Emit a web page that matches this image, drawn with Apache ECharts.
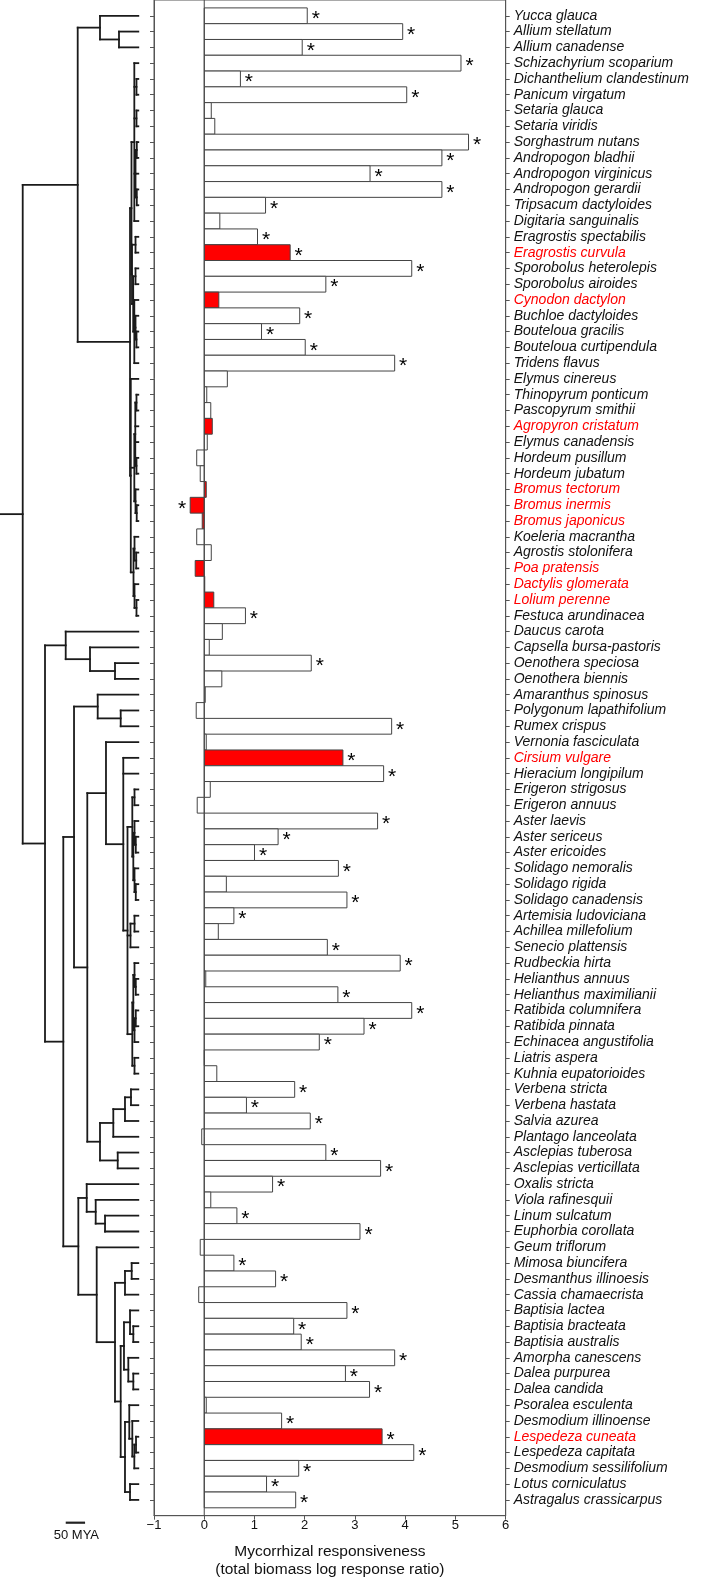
<!DOCTYPE html>
<html>
<head>
<meta charset="utf-8">
<script src="https://cdn.jsdelivr.net/npm/echarts@6/dist/echarts.min.js"></script>
<style>
html,body{margin:0;padding:0;background:#fff;}
#chart{width:709px;height:1578px;}
</style>
</head>
<body>
<div id="chart"></div>
<script>
// ---------------- DATA ----------------
const species = [
  'Yucca glauca','Allium stellatum','Allium canadense','Schizachyrium scoparium','Dichanthelium clandestinum',
  'Panicum virgatum','Setaria glauca','Setaria viridis','Sorghastrum nutans','Andropogon bladhii',
  'Andropogon virginicus','Andropogon gerardii','Tripsacum dactyloides','Digitaria sanguinalis','Eragrostis spectabilis',
  'Eragrostis curvula','Sporobolus heterolepis','Sporobolus airoides','Cynodon dactylon','Buchloe dactyloides',
  'Bouteloua gracilis','Bouteloua curtipendula','Tridens flavus','Elymus cinereus','Thinopyrum ponticum',
  'Pascopyrum smithii','Agropyron cristatum','Elymus canadensis','Hordeum pusillum','Hordeum jubatum',
  'Bromus tectorum','Bromus inermis','Bromus japonicus','Koeleria macrantha','Agrostis stolonifera',
  'Poa pratensis','Dactylis glomerata','Lolium perenne','Festuca arundinacea','Daucus carota',
  'Capsella bursa-pastoris','Oenothera speciosa','Oenothera biennis','Amaranthus spinosus','Polygonum lapathifolium',
  'Rumex crispus','Vernonia fasciculata','Cirsium vulgare','Hieracium longipilum','Erigeron strigosus',
  'Erigeron annuus','Aster laevis','Aster sericeus','Aster ericoides','Solidago nemoralis',
  'Solidago rigida','Solidago canadensis','Artemisia ludoviciana','Achillea millefolium','Senecio plattensis',
  'Rudbeckia hirta','Helianthus annuus','Helianthus maximilianii','Ratibida columnifera','Ratibida pinnata',
  'Echinacea angustifolia','Liatris aspera','Kuhnia eupatorioides','Verbena stricta','Verbena hastata',
  'Salvia azurea','Plantago lanceolata','Asclepias tuberosa','Asclepias verticillata','Oxalis stricta',
  'Viola rafinesquii','Linum sulcatum','Euphorbia corollata','Geum triflorum','Mimosa biuncifera',
  'Desmanthus illinoesis','Cassia chamaecrista','Baptisia lactea','Baptisia bracteata','Baptisia australis',
  'Amorpha canescens','Dalea purpurea','Dalea candida','Psoralea esculenta','Desmodium illinoense',
  'Lespedeza cuneata','Lespedeza capitata','Desmodium sessilifolium','Lotus corniculatus','Astragalus crassicarpus'
];

// mycorrhizal responsiveness (total biomass log response ratio)
const responsiveness = [
  2.05, 3.95, 1.95, 5.11, 0.72, 4.03, 0.14, 0.21, 5.26, 4.73,
  3.30, 4.73, 1.22, 0.31, 1.06, 1.71, 4.13, 2.42, 0.29, 1.90,
  1.14, 2.01, 3.79, 0.46, 0.05, 0.13, 0.16, 0.06, -0.15, -0.08,
  0.04, -0.28, -0.04, -0.15, 0.14, -0.18, 0.01, 0.19, 0.82, 0.36,
  0.10, 2.13, 0.35, 0.02, -0.16, 3.73, 0.04, 2.76, 3.57, 0.12,
  -0.14, 3.45, 1.47, 1.00, 2.67, 0.44, 2.84, 0.59, 0.28, 2.45,
  3.90, 0.03, 2.66, 4.13, 3.18, 2.29, 0.00, 0.25, 1.80, 0.84,
  2.11, -0.05, 2.42, 3.51, 1.36, 0.13, 0.65, 3.10, -0.08, 0.59,
  1.42, -0.11, 2.84, 1.78, 1.93, 3.79, 2.81, 3.29, 0.04, 1.54,
  3.54, 4.17, 1.88, 1.24, 1.82
];

// 1 = significant (asterisk)
const significant = [
  1,1,1,1,1,1,0,0,1,1,
  1,1,1,0,1,1,1,1,0,1,
  1,1,1,0,0,0,0,0,0,0,
  0,1,0,0,0,0,0,0,1,0,
  0,1,0,0,0,1,0,1,1,0,
  0,1,1,1,1,0,1,1,0,1,
  1,0,1,1,1,1,0,0,1,1,
  1,0,1,1,1,0,1,1,0,1,
  1,0,1,1,1,1,1,1,0,1,
  1,1,1,1,1
];

// non-native species (drawn in red)
const nonNative = [
  'Eragrostis curvula','Cynodon dactylon','Agropyron cristatum','Bromus tectorum','Bromus inermis',
  'Bromus japonicus','Poa pratensis','Dactylis glomerata','Lolium perenne','Cirsium vulgare','Lespedeza cuneata'
];

const xTicks = [-1, 0, 1, 2, 3, 4, 5, 6];

// phylogeny: [node id, node age (MYA), children...]  numbers = species rows (1-based), strings = node ids
const treeNodes = [
  ['root', 298.7, 'monocots', 'eudicots'],
  ['monocots', 156.6, 'asparagales', 'grasses'],
  ['asparagales', 99.0, 1, 'allium'],
  ['allium', 49.9, 2, 3],
  ['grasses', 21.4, 'pacmad', 'bep'],
  ['pacmad', 17.6, 'panicoid', 'chloridoid'],
  ['panicoid', 10.3, 4, 'pan56', 'set78', 'andro', 14],
  ['pan56', 4.7, 5, 6],
  ['set78', 4.7, 7, 8],
  ['andro', 7.2, 'andro910', 11, 'andro1213'],
  ['andro910', 3.9, 9, 10],
  ['andro1213', 3.9, 12, 13],
  ['chloridoid', 16.3, 'erag', 'chl2'],
  ['erag', 7.2, 15, 16],
  ['chl2', 13.2, 'spor', 'bout'],
  ['spor', 7.2, 17, 18],
  ['bout', 10.3, 19, 'boutIn', 23],
  ['boutIn', 7.2, 20, 'bout2122'],
  ['bout2122', 4.7, 21, 22],
  ['bep', 19.4, 24, 'trit', 'poeae'],
  ['trit', 10.3, 'tritA', 'bromus'],
  ['tritA', 7.8, 'trit2526', 27, 28, 'hord'],
  ['trit2526', 4.7, 25, 26],
  ['hord', 4.7, 29, 30],
  ['bromus', 7.2, 31, 'brom3233'],
  ['brom3233', 4.1, 32, 33],
  ['poeae', 12.4, 'poa', 'lol'],
  ['poa', 9.8, 34, 'poa3536'],
  ['poa3536', 5.4, 35, 36],
  ['lol', 9.8, 37, 'lol3839'],
  ['lol3839', 4.7, 38, 39],
  ['eudicots', 241.1, 'f1', 'h1'],
  ['f1', 187.6, 40, 'f2'],
  ['f2', 124.8, 41, 'f3'],
  ['f3', 60.2, 42, 43],
  ['h1', 193.8, 'h2', 'r'],
  ['h2', 166.1, 'i1', 'j'],
  ['i1', 104.9, 44, 'i2'],
  ['i2', 45.5, 45, 46],
  ['j', 131.8, 'k', 'l'],
  ['k', 83.5, 47, 'ast'],
  ['ast', 38.8, 48, 49, 'ast2'],
  ['ast2', 27.9, 'astereae', 'anthSen', 'he'],
  ['astereae', 15.5, 'erig', 'asterSol'],
  ['erig', 9.8, 50, 51],
  ['asterSol', 12.9, 'aster', 'solidago'],
  ['aster', 9.8, 52, 'aster5354'],
  ['aster5354', 6.5, 53, 54],
  ['solidago', 9.8, 55, 'sol5657'],
  ['sol5657', 6.5, 56, 57],
  ['anthSen', 20.2, 'anth', 60],
  ['anth', 9.8, 58, 59],
  ['he', 15.5, 'helian', 'eupat'],
  ['helian', 12.9, 'ha', 'hb'],
  ['ha', 9.8, 61, 'hel6263'],
  ['hel6263', 6.5, 62, 63],
  ['hb', 9.8, 'rat6465', 66],
  ['rat6465', 6.5, 64, 65],
  ['eupat', 9.8, 67, 68],
  ['l', 99.0, 'm', 'q'],
  ['m', 64.6, 'n', 72],
  ['n', 34.4, 'o', 71],
  ['o', 18.9, 69, 70],
  ['q', 53.2, 73, 74],
  ['r', 155.0, 's', 'v'],
  ['s', 133.3, 75, 't'],
  ['t', 110.1, 76, 'u'],
  ['u', 86.0, 77, 78],
  ['v', 107.5, 79, 'w'],
  ['w', 60.2, 'x', 'z'],
  ['x', 34.4, 'y', 82],
  ['y', 17.1, 80, 81],
  ['z', 45.5, 'z1', 'z6'],
  ['z1', 37.0, 'z2', 'z4'],
  ['z2', 21.4, 83, 'z3'],
  ['z3', 12.9, 84, 85],
  ['z4', 25.8, 86, 'z5'],
  ['z5', 12.9, 87, 88],
  ['z6', 34.4, 'z7', 'z10'],
  ['z7', 23.3, 89, 'z8'],
  ['z8', 15.5, 90, 'z9'],
  ['z9', 10.3, 'lesp', 93],
  ['lesp', 5.9, 91, 92],
  ['z10', 21.4, 94, 95]
];
const rootStemAge = 357.4;
const scaleBarMYA = 50;

// ---------------- BUILD ----------------
const FONT = '"Liberation Sans", Arial, Helvetica, sans-serif';
const rows = species.map((_, i) => i + 1);
const rowMax = species.length + 1;

const barData = species.map((name, i) => [
  responsiveness[i], i + 1, nonNative.includes(name) ? 1 : 0, significant[i]
]);

const nodeMap = {};
treeNodes.forEach(n => { nodeMap[n[0]] = n; });
const yCache = {};
function nodeY(id) {
  if (typeof id === 'number') return id;
  if (yCache[id] == null) {
    const kids = nodeMap[id].slice(2);
    yCache[id] = (nodeY(kids[0]) + nodeY(kids[kids.length - 1])) / 2;
  }
  return yCache[id];
}
function nodeAge(id) { return typeof id === 'number' ? 0 : nodeMap[id][1]; }
const treeSegments = [];
treeNodes.forEach(n => {
  const age = n[1];
  const kids = n.slice(2);
  treeSegments.push([age, nodeY(kids[0]), age, nodeY(kids[kids.length - 1])]);
  kids.forEach(k => treeSegments.push([age, nodeY(k), nodeAge(k), nodeY(k)]));
});
treeSegments.push([rootStemAge, nodeY('root'), nodeAge('root'), nodeY('root')]);

const GRID_TOP = 0, GRID_H = 1515.7;

const chart = echarts.init(document.getElementById('chart'), null, { renderer: 'canvas' });

const option = {
  animation: false,
  backgroundColor: '#fff',
  grid: [
    { left: 154, top: GRID_TOP, width: 351.7, height: GRID_H, show: true, borderColor: '#555', borderWidth: 1, backgroundColor: 'transparent', outerBoundsMode: 'none', containLabel: false },
    { left: 0, top: GRID_TOP, width: 138.3, height: GRID_H, show: false, outerBoundsMode: 'none', containLabel: false }
  ],
  xAxis: [
    {
      gridIndex: 0, type: 'value', min: xTicks[0], max: xTicks[xTicks.length - 1], interval: 1,
      axisLine: { show: true, onZero: false, lineStyle: { color: '#555', width: 1 } },
      axisTick: { show: true, inside: false, length: 4, lineStyle: { color: '#555', width: 1 } },
      axisLabel: { show: true, margin: 3, color: '#111', fontSize: 13, fontFamily: FONT,
        formatter: v => (v < 0 ? '\u2212' + Math.abs(v) : String(v)) },
      splitLine: { show: false },
      name: 'Mycorrhizal responsiveness\n(total biomass log response ratio)',
      nameLocation: 'middle', nameGap: 27,
      nameTextStyle: { fontSize: 15.5, lineHeight: 18, color: '#111', fontFamily: FONT }
    },
    { gridIndex: 1, type: 'value', min: 0, max: rootStemAge, inverse: true, show: false }
  ],
  yAxis: [
    {
      gridIndex: 0, type: 'value', min: 0, max: rowMax, inverse: true, position: 'left',
      axisLine: { show: true, onZero: false, lineStyle: { color: '#555', width: 1 } },
      axisTick: { show: true, inside: false, length: 4, customValues: rows, lineStyle: { color: '#555', width: 1 } },
      axisLabel: { show: false },
      splitLine: { show: false }
    },
    {
      gridIndex: 0, type: 'value', min: 0, max: rowMax, inverse: true, position: 'right',
      axisLine: { show: true, onZero: false, lineStyle: { color: '#555', width: 1 } },
      axisTick: { show: true, inside: false, length: 4, customValues: rows, lineStyle: { color: '#555', width: 1 } },
      axisLabel: {
        show: true, margin: 8, customValues: rows,
        fontSize: 14, fontStyle: 'italic', fontFamily: FONT, color: '#111',
        formatter: v => {
          const name = species[v - 1];
          if (!name) return '';
          return nonNative.includes(name) ? '{r|' + name + '}' : '{b|' + name + '}';
        },
        rich: {
          b: { fontSize: 14, fontStyle: 'italic', fontFamily: FONT, color: '#111' },
          r: { fontSize: 14, fontStyle: 'italic', fontFamily: FONT, color: '#ff0000' }
        }
      },
      splitLine: { show: false }
    },
    { gridIndex: 1, type: 'value', min: 0, max: rowMax, inverse: true, show: false }
  ],
  series: [
    {
      type: 'custom', name: 'responsiveness', xAxisIndex: 0, yAxisIndex: 0, clip: false,
      data: barData,
      renderItem: (params, api) => {
        const v = api.value(0), row = api.value(1), red = api.value(2), sig = api.value(3);
        const a = api.coord([0, row - 0.5]);
        const b = api.coord([v, row + 0.5]);
        const x0 = Math.min(a[0], b[0]);
        const w = Math.abs(b[0] - a[0]);
        const children = [{
          type: 'rect',
          shape: { x: x0, y: a[1], width: w, height: b[1] - a[1] },
          style: { fill: red ? '#ff0000' : '#ffffff', stroke: '#444', lineWidth: 1 }
        }];
        if (sig) {
          const c = api.coord([v, row]);
          const dx = v >= 0 ? 8.5 : -8;
          children.push({
            type: 'text', x: c[0] + dx, y: c[1] + 3.5,
            style: { text: '*', fontSize: 21, fontFamily: FONT, fill: '#000', align: 'center', verticalAlign: 'middle' }
          });
        }
        return { type: 'group', children };
      }
    },
    {
      type: 'line', name: 'zero', xAxisIndex: 0, yAxisIndex: 0, silent: true,
      data: [[0, 0], [0, rowMax]], symbol: 'none', z: 5,
      lineStyle: { color: '#444', width: 1 }
    },
    {
      type: 'custom', name: 'tree', xAxisIndex: 1, yAxisIndex: 2, clip: false, silent: true,
      data: treeSegments,
      renderItem: (params, api) => {
        const p1 = api.coord([api.value(0), api.value(1)]);
        const p2 = api.coord([api.value(2), api.value(3)]);
        return {
          type: 'line',
          shape: { x1: p1[0], y1: p1[1], x2: p2[0], y2: p2[1] },
          style: { stroke: '#1a1a1a', lineWidth: 1.8, lineCap: 'square' }
        };
      }
    },
    {
      type: 'custom', name: 'scalebar', xAxisIndex: 1, yAxisIndex: 2, clip: false, silent: true,
      data: [[scaleBarMYA]],
      renderItem: (params, api) => {
        const len = api.coord([0, rowMax])[0] - api.coord([api.value(0), rowMax])[0];
        const base = api.coord([0, rowMax]);
        const cx = 75.4, y = base[1] + 7;
        return {
          type: 'group',
          children: [
            { type: 'line', shape: { x1: cx - len / 2, y1: y, x2: cx + len / 2, y2: y }, style: { stroke: '#222', lineWidth: 2.2 } },
            { type: 'text', x: cx + 1, y: y + 12.5, style: { text: api.value(0) + ' MYA', fontSize: 13, fontFamily: FONT, fill: '#111', align: 'center', verticalAlign: 'middle' } }
          ]
        };
      }
    }
  ]
};
chart.setOption(option);
</script>
</body>
</html>
